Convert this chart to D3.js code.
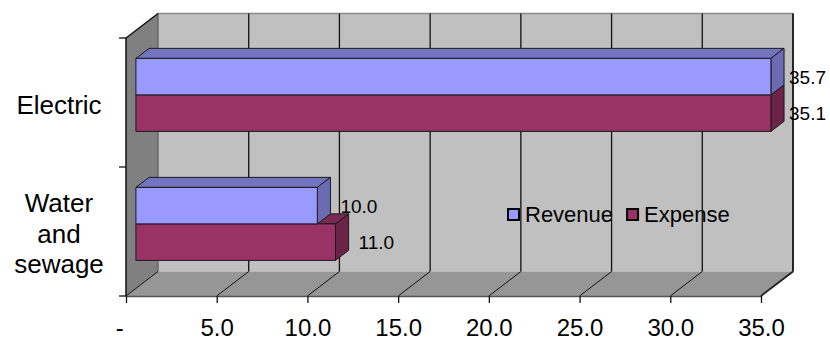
<!DOCTYPE html>
<html><head><meta charset="utf-8">
<script src="https://cdn.jsdelivr.net/npm/d3@7"></script>
<style>
body{margin:0;background:#fff}
svg{display:block}
text{font-family:"Liberation Sans",Arial,sans-serif;fill:#000}
</style>
</head><body>
<svg id="chart" width="830" height="341"></svg>
<script>
// ---- data ----
const categories = ["Electric", "Water and sewage"];
const categoryLines = [["Electric"], ["Water", "and", "sewage"]];
const seriesNames = ["Revenue", "Expense"];
const revenue = [35.7, 10.0];
const expense = [35.1, 11.0];
const tickValues = [0, 5, 10, 15, 20, 25, 30, 35];
const tickLabels = ["-", "5.0", "10.0", "15.0", "20.0", "25.0", "30.0", "35.0"];
const dataLabels = { Revenue: ["35.7", "10.0"], Expense: ["35.1", "11.0"] };

// ---- layout ----
const svg = d3.select("#chart");
const frontTop = 38, frontBottom = 296;
const D = { dx: 32, dy: -24.5 };           // depth of the plot box
const fz0 = 0.31, fz1 = 0.72;               // bar depth position
const colors = {
  Revenue: { front: "#9999FF", top: "#7373BF", side: "#6B6BB3" },
  Expense: { front: "#993366", top: "#7A2952", side: "#6B2447" }
};
const values = { Revenue: revenue, Expense: expense };

const x = d3.scaleLinear().domain([0, 35]).range([126, 761]);
const y = d3.scaleBand().domain(categories).range([frontTop, frontBottom]);
const groupH = 73;

const backX0 = x(0) + D.dx, backX1 = x(35) + D.dx;
const backTop = frontTop + D.dy, backBottom = frontBottom + D.dy;

// back wall
svg.append("rect").attr("x", backX0).attr("y", backTop)
  .attr("width", backX1 - backX0).attr("height", backBottom - backTop)
  .attr("fill", "#C0C0C0");
// floor
svg.append("polygon")
  .attr("points", [[x(0), frontBottom], [backX0, backBottom], [backX1, backBottom], [x(35), frontBottom]].join(" "))
  .attr("fill", "#969696");
// left wall
svg.append("polygon")
  .attr("points", [[x(0), frontTop], [backX0, backTop], [backX0, backBottom], [x(0), frontBottom]].join(" "))
  .attr("fill", "#808080");

// top edge of back wall
svg.append("line").attr("x1", backX0).attr("x2", backX1).attr("y1", backTop).attr("y2", backTop)
  .attr("stroke", "#8a8a8a").attr("stroke-width", 1.5);

// gridlines on back wall and floor
tickValues.forEach(v => {
  const bx = x(v) + D.dx;
  svg.append("line").attr("x1", bx).attr("x2", bx).attr("y1", backTop).attr("y2", backBottom)
    .attr("stroke", v === 0 ? "#606060" : "#111").attr("stroke-width", 1.3);
  svg.append("line").attr("x1", bx).attr("x2", x(v)).attr("y1", backBottom).attr("y2", frontBottom)
    .attr("stroke", "#111").attr("stroke-width", 1);
});
// right edge of back wall
svg.append("line").attr("x1", backX1).attr("x2", backX1).attr("y1", backTop).attr("y2", backBottom)
  .attr("stroke", "#222").attr("stroke-width", 1.8);
svg.append("line").attr("x1", backX1).attr("x2", x(35)).attr("y1", backBottom).attr("y2", frontBottom)
  .attr("stroke", "#222").attr("stroke-width", 1.8);
// left wall top edge
svg.append("line").attr("x1", x(0)).attr("x2", backX0).attr("y1", frontTop).attr("y2", backTop)
  .attr("stroke", "#111").attr("stroke-width", 1.5);

// bottom axis
const xAxis = d3.axisBottom(x).tickValues(tickValues)
  .tickFormat((d, i) => tickLabels[i] + (d === 0 ? "  " : ""))
  .tickSizeInner(7).tickSizeOuter(0).tickPadding(0);
const gx = svg.append("g").attr("transform", `translate(0,${frontBottom})`).call(xAxis);
gx.select(".domain").attr("stroke", "#555").attr("stroke-width", 1.5);
gx.selectAll(".tick line").attr("stroke", "#111").attr("stroke-width", 1.3);
gx.selectAll(".tick text").attr("font-size", 24).attr("fill", "#000")
  .attr("y", 335.5 - frontBottom).attr("dy", null)
  .style("white-space", "pre").attr("font-family", "Liberation Sans, Arial, sans-serif");

// left axis (category)
svg.append("line").attr("x1", x(0)).attr("x2", x(0)).attr("y1", frontTop).attr("y2", frontBottom)
  .attr("stroke", "#111").attr("stroke-width", 1.5);
const boundaries = categories.map(c => y(c)).concat([frontBottom]);
boundaries.forEach(b => {
  svg.append("line").attr("x1", x(0) - 7).attr("x2", x(0)).attr("y1", b).attr("y2", b)
    .attr("stroke", "#111").attr("stroke-width", 1.3);
});
// category labels
categories.forEach((c, i) => {
  const cy = y(c) + y.bandwidth() / 2;
  const lines = categoryLines[i];
  const lh = 30.5;
  const t = svg.append("text").attr("text-anchor", "middle").attr("font-size", 26);
  lines.forEach((ln, j) => {
    t.append("tspan").attr("x", 59).attr("y", cy + 11 + (j - (lines.length - 1) / 2) * lh).text(ln);
  });
});

// bars
const ox = fz0 * D.dx, oy = fz0 * D.dy;
const bdx = (fz1 - fz0) * D.dx, bdy = (fz1 - fz0) * D.dy;
const drawOrder = seriesNames.slice().reverse();
categories.forEach((c, i) => {
  const cy = y(c) + y.bandwidth() / 2 + oy;
  const sy = d3.scaleBand().domain(seriesNames).range([cy - groupH / 2, cy + groupH / 2]);
  drawOrder.forEach(s => {
    const v = values[s][i];
    const vc = Math.min(v, x.domain()[1]);
    const x0 = x(0) + ox, x1 = x(vc) + ox;
    const yt = sy(s), yb = sy(s) + sy.bandwidth();
    const col = colors[s];
    const g = svg.append("g").attr("stroke", "#1a1a1a").attr("stroke-width", 1).attr("stroke-linejoin", "round");
    g.append("polygon").attr("points", [[x0, yt], [x0 + bdx, yt + bdy], [x1 + bdx, yt + bdy], [x1, yt]].join(" "))
      .attr("fill", col.top);
    g.append("polygon").attr("points", [[x1, yt], [x1 + bdx, yt + bdy], [x1 + bdx, yb + bdy], [x1, yb]].join(" "))
      .attr("fill", col.side);
    g.append("rect").attr("x", x0).attr("y", yt).attr("width", x1 - x0).attr("height", yb - yt)
      .attr("fill", col.front);
  });
  seriesNames.forEach(s => {
    const v = values[s][i];
    const vc = Math.min(v, x.domain()[1]);
    const yc = sy(s) + sy.bandwidth() / 2;
    const t = svg.append("text").attr("font-size", 19).attr("y", yc + 7).text(dataLabels[s][i]);
    const w = t.node().getComputedTextLength();
    t.attr("x", Math.min(x(vc) + ox + bdx + 10, 826 - w));
  });
});

// legend
let lx = 507;
const ly = 209;
seriesNames.forEach(s => {
  svg.append("rect").attr("x", lx + 1).attr("y", ly).attr("width", 11).attr("height", 11)
    .attr("fill", colors[s].front).attr("stroke", "#000").attr("stroke-width", 2);
  const t = svg.append("text").attr("x", lx + 18).attr("y", ly + 13).attr("font-size", 22).text(s);
  lx = lx + 18 + t.node().getComputedTextLength() + 13;
});
</script>
</body></html>
